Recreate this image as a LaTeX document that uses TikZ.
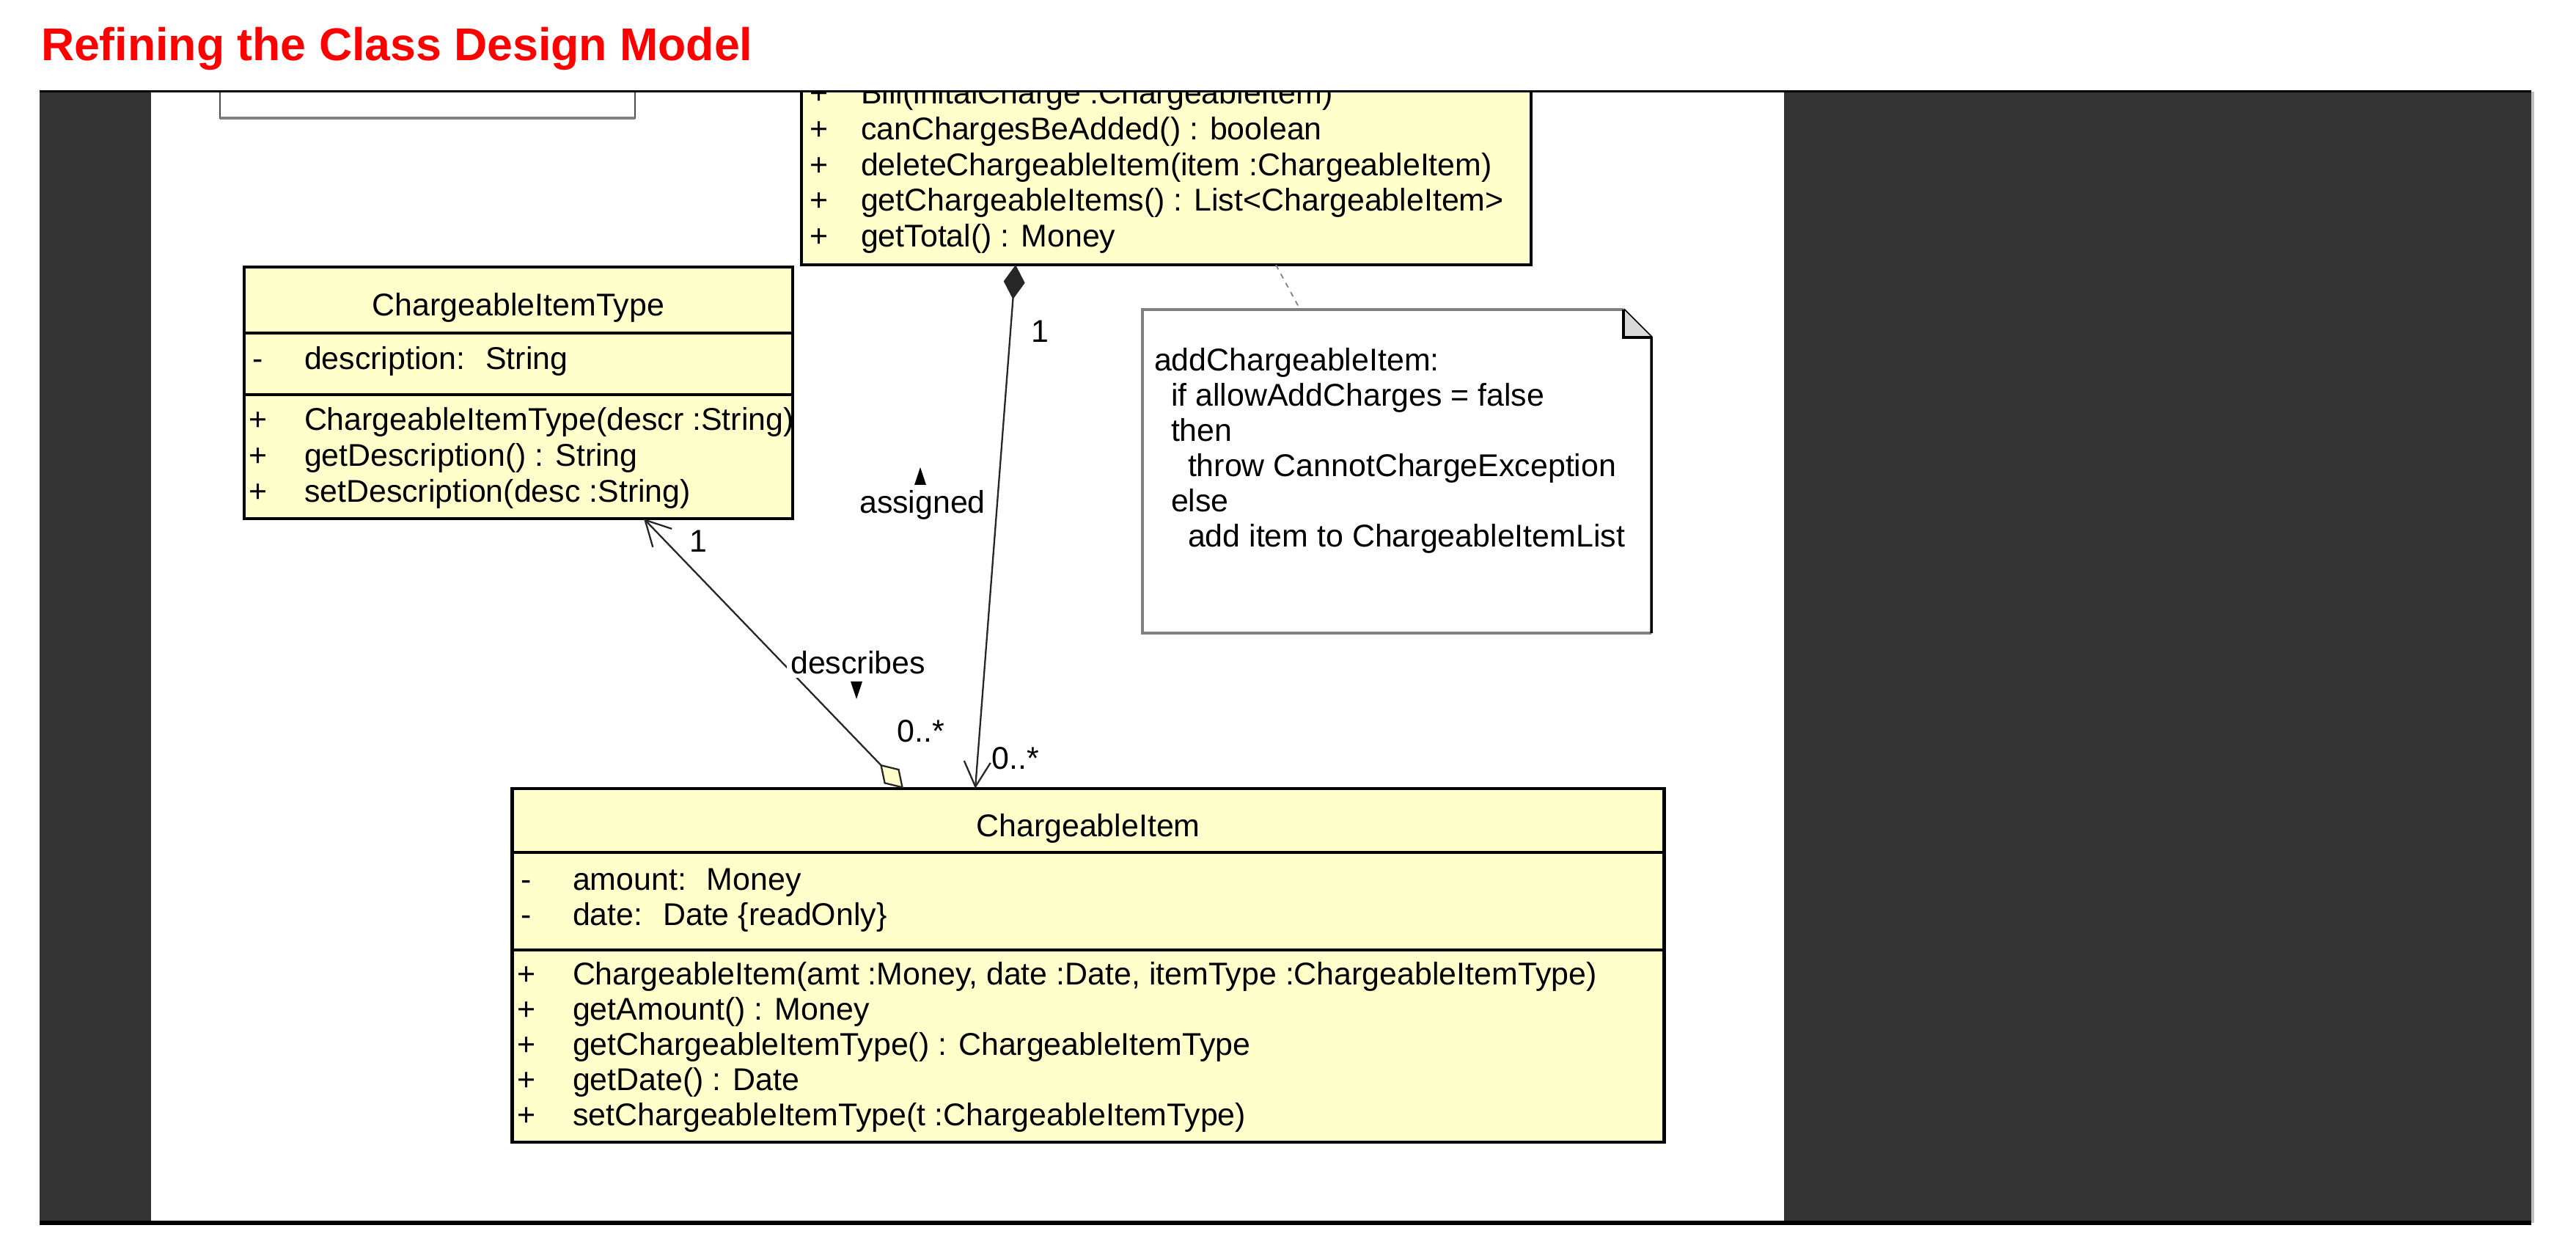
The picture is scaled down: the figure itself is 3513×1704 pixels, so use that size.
\documentclass[tikz,border=0pt]{standalone}
\usepackage{fontspec}
\setmainfont{Liberation Sans}
\usetikzlibrary{arrows.meta}
\definecolor{classyellow}{HTML}{FFFFCC}
\definecolor{framedark}{HTML}{333333}
\definecolor{notegray}{HTML}{808080}
\definecolor{titlered}{HTML}{FF0000}

\begin{document}
\begin{tikzpicture}[x=0.01cm, y=-0.01cm,
    every node/.style={inner sep=0pt, outer sep=0pt},
    uml/.style={font=\fontsize{12.2pt}{14pt}\selectfont},
    txt/.style={uml, anchor=base west},
    vis/.style={uml, anchor=base},
    classname/.style={uml, anchor=base},
    classbox/.style={draw, line width=1.2pt, fill=classyellow, rectangle},
    compline/.style={line width=1.2pt},
    assoc/.style={line width=0.65pt, draw=black!85},
    mult/.style={uml, anchor=center}]
                    % Canvas and slide frame
                    \fill[white] (0,0) rectangle (3513,1704);
                    \useasboundingbox (0,0) rectangle (3513,1704);
                    \node[anchor=base west, text=titlered, font=\fontsize{17.8pt}{20pt}\selectfont\bfseries] (Title) at (56,83) {Refining the Class Design Model};
                    \fill[framedark] (54,125) rectangle (3452,1667);
                    \fill[white] (206,125) rectangle (2433,1667);

                    \begin{scope}
                    \clip (206,125) rectangle (2433,1667);

                    % Boxes cut off by the top of the page
                    \node[draw=black!70, line width=0.02cm, fill=white, minimum width=5.66cm, minimum height=1.01cm] (TopBox) at (583,110.5) {};
                    \draw[notegray, line width=0.04cm] (TopBox.south west) -- (TopBox.south east);
                    \node[classbox, minimum width=9.95cm, minimum height=3.01cm] (Bill) at (1590.5,210.5) {};
                    \node[vis] (BillVisA) at (1117,142) {+};
                    \node[txt] (BillOpA)  at (1174,142) {Bill(initalCharge :ChargeableItem)};
                    \node[vis] (BillVisB) at (1117,191) {+};
                    \node[txt] (BillOpB)  at (1174,191) {canChargesBeAdded() : boolean};
                    \node[vis] (BillVisC) at (1117,240) {+};
                    \node[txt] (BillOpC)  at (1174,240) {deleteChargeableItem(item :ChargeableItem)};
                    \node[vis] (BillVisD) at (1117,288) {+};
                    \node[txt] (BillOpD)  at (1174,288) {getChargeableItems() : List<ChargeableItem>};
                    \node[vis] (BillVisE) at (1117,337) {+};
                    \node[txt] (BillOpE)  at (1174,337) {getTotal() : Money};

                    % ChargeableItemType
                    \node[classbox, minimum width=7.48cm, minimum height=3.43cm] (ItemType) at (707,535.5) {};
                    \draw[compline] (333,454) -- (1081,454);
                    \draw[compline] (333,538) -- (1081,538);
                    \node[classname] (ItemTypeName) at (707,431) {ChargeableItemType};
                    \node[vis] (TypeVisA) at (352,504) {-};
                    \node[txt] (TypeAttrA) at (415,504) {description:~ String};
                    \node[vis] (TypeVisB) at (352,587) {+};
                    \node[txt] (TypeOpA)   at (415,587) {ChargeableItemType(descr :String)};
                    \node[vis] (TypeVisC) at (352,636) {+};
                    \node[txt] (TypeOpB)   at (415,636) {getDescription() : String};
                    \node[vis] (TypeVisD) at (352,685) {+};
                    \node[txt] (TypeOpC)   at (415,685) {setDescription(desc :String)};

                    % ChargeableItem
                    \node[classbox, minimum width=15.70cm, minimum height=4.82cm] (Item) at (1484,1316) {};
                    \draw[compline] (699,1162) -- (2269,1162);
                    \draw[compline] (699,1295) -- (2269,1295);
                    \node[classname] (ItemName) at (1484,1140) {ChargeableItem};
                    \node[vis] (ItemVisA) at (718,1213) {-};
                    \node[txt] (ItemAttrA) at (781,1213) {amount:~ Money};
                    \node[vis] (ItemVisB) at (718,1261) {-};
                    \node[txt] (ItemAttrB) at (781,1261) {date:~ Date \{readOnly\}};
                    \node[vis] (ItemVisC) at (718,1342) {+};
                    \node[txt] (ItemOpA)   at (781,1342) {ChargeableItem(amt :Money, date :Date, itemType :ChargeableItemType)};
                    \node[vis] (ItemVisD) at (718,1390) {+};
                    \node[txt] (ItemOpB)   at (781,1390) {getAmount() : Money};
                    \node[vis] (ItemVisE) at (718,1438) {+};
                    \node[txt] (ItemOpC)   at (781,1438) {getChargeableItemType() : ChargeableItemType};
                    \node[vis] (ItemVisF) at (718,1486) {+};
                    \node[txt] (ItemOpD)   at (781,1486) {getDate() : Date};
                    \node[vis] (ItemVisG) at (718,1534) {+};
                    \node[txt] (ItemOpE)   at (781,1534) {setChargeableItemType(t :ChargeableItemType)};

                    % Note with folded corner
                    \node[minimum width=6.94cm, minimum height=4.41cm] (Note) at (1905,642.5) {};
                    \draw[notegray, line width=0.035cm] (Note.south east) -- (Note.south west) -- (Note.north west) -- ([xshift=-0.38cm]Note.north east);
                    \draw[line width=0.035cm] ([xshift=-0.38cm]Note.north east) -- ([yshift=-0.38cm]Note.north east) -- (Note.south east);
                    \filldraw[fill=black!15, line width=0.035cm] ([xshift=-0.38cm]Note.north east) -- ([xshift=-0.38cm, yshift=-0.38cm]Note.north east) -- ([yshift=-0.38cm]Note.north east);
                    \node[txt] (NoteLineA) at (1574,506) {addChargeableItem:};
                    \node[txt] (NoteLineB) at (1597,554) {if allowAddCharges = false};
                    \node[txt] (NoteLineC) at (1597,602) {then};
                    \node[txt] (NoteLineD) at (1620,650) {throw CannotChargeException};
                    \node[txt] (NoteLineE) at (1597,698) {else};
                    \node[txt] (NoteLineF) at (1620,746) {add item to ChargeableItemList};

                    % Connector end points along the box edges
                    \coordinate (assignedTop) at (1385,0);
                    \coordinate (assignedEnd) at (1330,0);
                    \coordinate (describesTop) at (878,0);
                    \coordinate (describesEnd) at (1232,0);
                    \coordinate (noteFrom) at (1740,0);
                    \coordinate (noteTo) at (1773,0);

                    % Associations
                    \draw[assoc, {Diamond[length=0.47cm, width=0.29cm]}-{Straight Barb[length=0.34cm, width=0.36cm]}] (Bill.south -| assignedTop) -- (Item.north -| assignedEnd);
                    \draw[assoc, {Diamond[open, fill=classyellow, length=0.46cm, width=0.29cm]}-{Straight Barb[length=0.34cm, width=0.36cm]}] (Item.north -| describesEnd) -- (ItemType.south -| describesTop);
                    \draw[notegray, line width=0.5pt, dash pattern=on 0.07cm off 0.07cm] (Bill.south -| noteFrom) -- (Note.north -| noteTo);

                    % Multiplicities and role names
                    \node[mult] (AssignedOne)  at (1418,452) {1};
                    \node[mult] (AssignedMany) at (1385,1034) {0..*};
                    \node[mult] (AssignedLbl)  at (1258,688) {assigned};
                    \fill (1247,661) -- (1263,661) -- (1255,637) -- cycle;
                    \node[mult, fill=white, inner sep=0.05cm] (DescribesLbl) at (1170,903) {describes};
                    \fill (1160,929) -- (1176,929) -- (1168,953) -- cycle;
                    \node[mult] (DescribesMany) at (1256,997) {0..*};
                    \node[mult] (DescribesOne)  at (952,738) {1};
                    \end{scope}

                    % Frame edges
                    \draw[line width=0.03cm] (54,125) -- (3452,125);
                    \draw[line width=0.06cm] (54,1667) -- (3452,1667);
                    \draw[black!25, line width=0.04cm] (3454,125) -- (3454,1667);
                \end{tikzpicture}
\end{document}
